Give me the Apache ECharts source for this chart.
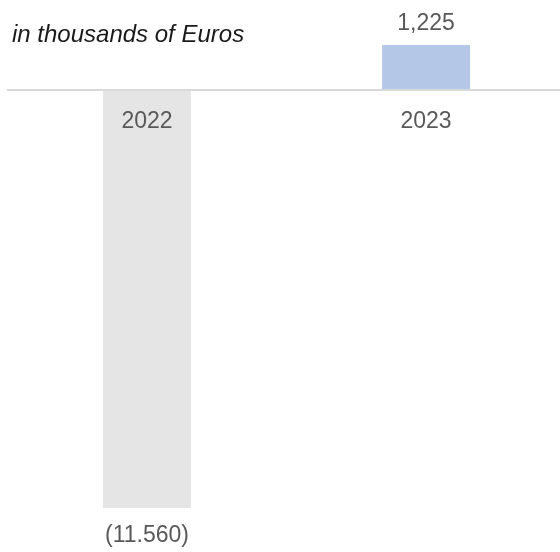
<!DOCTYPE html>
<html>
<head>
<meta charset="utf-8">
<style>
  html, body { margin: 0; padding: 0; background: #fff; }
  #chart { width: 560px; height: 552px; }
</style>
<script src="https://cdn.jsdelivr.net/npm/echarts@6/dist/echarts.min.js"></script>
</head>
<body>
<div id="chart"></div>
<script>
// Annual result, in thousands of Euros
const years = ['2022', '2023'];
const results = [-11560, 1225];
const barColors = ['#e5e5e5', '#b4c7e7'];

// Negative figures shown in parentheses
function formatResult(v) {
  if (v < 0) {
    return '(' + String(Math.abs(v)).replace(/\B(?=(\d{3})+(?!\d))/g, '.') + ')';
  }
  return String(v).replace(/\B(?=(\d{3})+(?!\d))/g, ',');
}

const FONT = 'Liberation Sans, Arial, sans-serif';
const GRID_TOP = 45;
const GRID_BOTTOM = 44;
const CHART_H = 552;

const yMin = -11560;
const yMax = 1225;
// vertical position of the zero line, so the year axis sits on it
const plotH = CHART_H - GRID_TOP - GRID_BOTTOM;
const zeroFromBottom = plotH * (0 - yMin) / (yMax - yMin);

// years are placed on a numeric axis: one unit per year slot,
// the plot runs to the right edge of the page
const xMin = -0.5;
const xMax = 1.48;

const chart = echarts.init(document.getElementById('chart'), null, { renderer: 'canvas' });

chart.setOption({
  animation: false,
  textStyle: { fontFamily: FONT },
  title: {
    text: 'in thousands of Euros',
    left: 7,
    top: 18,
    textStyle: {
      fontFamily: FONT,
      fontStyle: 'italic',
      fontWeight: 'normal',
      fontSize: 24,
      color: '#1a1a1a'
    }
  },
  grid: { left: 7.5, right: 0, top: GRID_TOP, bottom: GRID_BOTTOM },
  xAxis: {
    type: 'value',
    min: xMin,
    max: xMax,
    z: 5,
    offset: -zeroFromBottom,
    splitLine: { show: false },
    axisLine: { onZero: false, lineStyle: { color: '#d9d9d9', width: 2 } },
    axisTick: { show: false },
    axisLabel: {
      customValues: years.map((_, i) => i),
      formatter: v => years[Math.round(v)],
      margin: 21,
      fontSize: 23,
      fontFamily: FONT,
      color: '#595959'
    }
  },
  yAxis: {
    type: 'value',
    min: yMin,
    max: yMax,
    show: false,
    splitLine: { show: false }
  },
  series: [{
    type: 'bar',
    barWidth: 88,
    data: results.map((v, i) => ({
      value: [i, v],
      itemStyle: { color: barColors[i] },
      label: { position: v < 0 ? 'bottom' : 'top', distance: v < 0 ? 16 : 10 }
    })),
    label: {
      show: true,
      fontSize: 23,
      fontFamily: FONT,
      color: '#595959',
      formatter: p => formatResult(p.value[1])
    }
  }]
});
</script>
</body>
</html>
